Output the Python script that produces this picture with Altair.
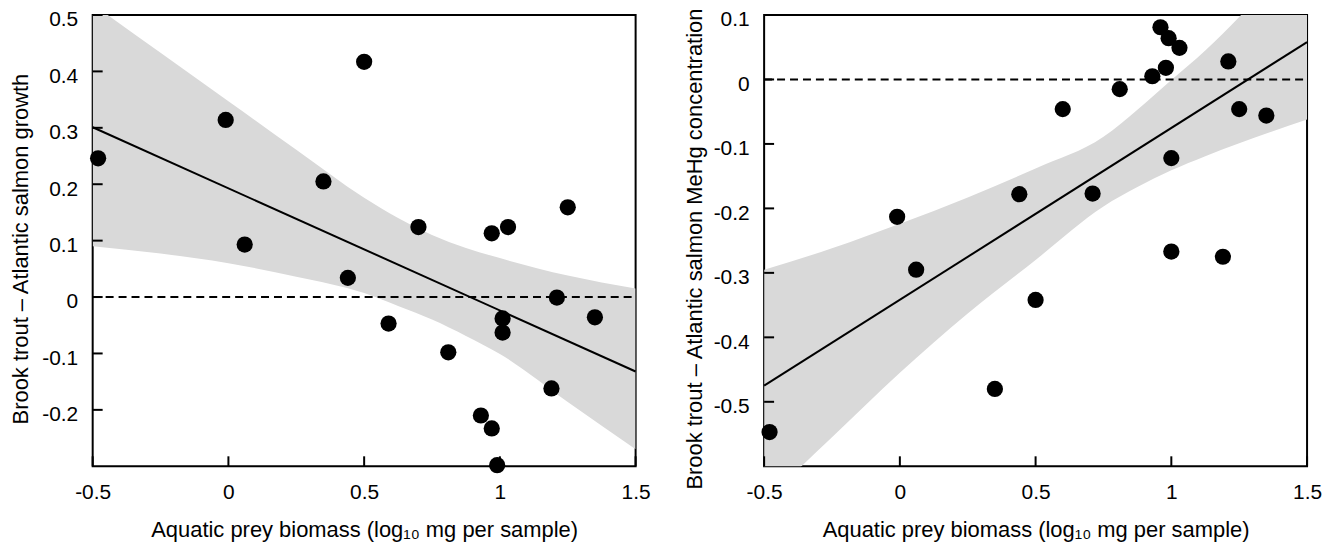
import altair as alt
import pandas as pd

# ---------------- data ----------------
# left panel: growth difference
left_x = [-0.48, -0.01, 0.50, 0.06, 0.35, 0.44, 0.70, 0.59, 0.81, 0.97,
          1.03, 1.25, 1.21, 1.35, 1.01, 1.01, 1.19, 0.93, 0.97, 0.99]
left_y = [0.246, 0.314, 0.417, 0.093, 0.205, 0.034, 0.124, -0.047, -0.098, 0.113,
          0.124, 0.159, -0.001, -0.036, -0.038, -0.063, -0.162, -0.210, -0.233, -0.298]
left_fit_x = [-0.5, 1.5]
left_fit_y = [0.301, -0.132]
left_band_x = [-0.5, -0.25, 0.0, 0.25, 0.5, 0.625, 0.75, 0.875, 1.0, 1.25, 1.5]
left_band_hi = [0.519, 0.433, 0.347, 0.261, 0.176, 0.140, 0.110, 0.087, 0.069, 0.038, 0.015]
left_band_lo = [0.090, 0.077, 0.060, 0.036, 0.007, -0.016, -0.040, -0.069, -0.101, -0.186, -0.270]
left_yticks = [0.5, 0.4, 0.3, 0.2, 0.1, 0.0, -0.1, -0.2]
left_ydomain = [-0.3, 0.5]

# right panel: MeHg concentration difference
right_x = [-0.48, -0.01, 0.06, 0.35, 0.44, 0.50, 0.60, 0.71, 0.81, 0.93,
           0.96, 0.99, 0.98, 1.03, 1.00, 1.00, 1.19, 1.21, 1.25, 1.35]
right_y = [-0.547, -0.213, -0.295, -0.480, -0.178, -0.342, -0.046, -0.177, -0.015, 0.005,
           0.081, 0.064, 0.018, 0.049, -0.122, -0.267, -0.275, 0.028, -0.046, -0.056]
right_fit_x = [-0.5, 1.5]
right_fit_y = [-0.475, 0.058]
right_band_x = [-0.5, -0.25, 0.0, 0.25, 0.5, 0.75, 0.875, 1.0, 1.125, 1.25, 1.5]
right_band_hi = [-0.295, -0.262, -0.224, -0.183, -0.138, -0.089, -0.047, -0.001, 0.045, 0.097, 0.22]
right_band_lo = [-0.655, -0.555, -0.455, -0.363, -0.280, -0.197, -0.167, -0.141, -0.119, -0.099, -0.062]
right_yticks = [0.1, 0.0, -0.1, -0.2, -0.3, -0.4, -0.5]
right_ydomain = [-0.6, 0.1]

xticks = [-0.5, 0.0, 0.5, 1.0, 1.5]
xdomain = [-0.5, 1.5]
zero_line = [0.0]

x_title = "Aquatic prey biomass (log\u2081\u2080 mg per sample)"
left_title = "Brook trout \u2013 Atlantic salmon growth"
right_title = "Brook trout \u2013 Atlantic salmon MeHg concentration"

# ---------------- styling ----------------
W, H = 545, 453
FONT = "Liberation Sans"
BAND = "#d9d9d9"
TICK_LEN = 10
LABEL_FS = 21
TITLE_FS = 22


def panel(px, py, fx, fy, bx, bhi, blo, ydom, yticks, ytitle, ytitle_pad):
    xs = alt.Scale(domain=xdomain, nice=False, zero=False)
    ys = alt.Scale(domain=ydom, nice=False, zero=False)

    xaxis = alt.Axis(values=xticks, labelExpr="toString(datum.value)", title=x_title,
                     grid=False, domain=False, ticks=False, tickSize=0,
                     labelPadding=15, labelFlush=False, titlePadding=17,
                     labelFont=FONT, titleFont=FONT, labelFontSize=LABEL_FS,
                     titleFontSize=TITLE_FS, titleFontWeight="normal",
                     labelColor="black", titleColor="black")
    yaxis = alt.Axis(values=yticks, labelExpr="toString(datum.value)", title=ytitle,
                     grid=False, domain=False, ticks=False, tickSize=0,
                     labelPadding=15, labelFlush=False, labelOffset=5,
                     titlePadding=ytitle_pad, titleY=H / 2 + 8,
                     labelFont=FONT, titleFont=FONT, labelFontSize=LABEL_FS,
                     titleFontSize=TITLE_FS, titleFontWeight="normal",
                     labelColor="black", titleColor="black")

    def X(f):
        return alt.X(f, scale=xs, axis=xaxis, title=x_title)

    def Y(f):
        return alt.Y(f, scale=ys, axis=yaxis, title=ytitle)

    band_df = pd.DataFrame({"x": bx, "hi": bhi, "lo": blo})
    band = alt.Chart(band_df).mark_area(color=BAND, opacity=1, clip=True,
                                        interpolate="monotone").encode(
        x=X("x:Q"), y=Y("hi:Q"), y2="lo:Q",
    )

    zero = alt.Chart(pd.DataFrame({"v": zero_line})).mark_rule(
        color="black", strokeWidth=2, strokeDash=[8, 5]).encode(
        y=Y("v:Q"), x=alt.value(0), x2=alt.value(W),
    )

    fit = alt.Chart(pd.DataFrame({"x": fx, "y": fy})).mark_line(
        color="black", strokeWidth=2).encode(x=X("x:Q"), y=Y("y:Q"))

    pts = alt.Chart(pd.DataFrame({"x": px, "y": py})).mark_circle(
        color="black", opacity=1, size=265).encode(x=X("x:Q"), y=Y("y:Q"))

    ytk = alt.Chart(pd.DataFrame({"v": yticks})).mark_rule(
        color="black", strokeWidth=2).encode(
        y=Y("v:Q"), x=alt.value(0), x2=alt.value(TICK_LEN),
    )
    xtk = alt.Chart(pd.DataFrame({"v": xticks})).mark_rule(
        color="black", strokeWidth=2).encode(
        x=X("v:Q"), y=alt.value(H), y2=alt.value(H - TICK_LEN),
    )

    return alt.layer(band, zero, fit, pts, ytk, xtk).properties(width=W, height=H)


left = panel(left_x, left_y, left_fit_x, left_fit_y, left_band_x, left_band_hi,
             left_band_lo, left_ydomain, left_yticks, left_title, 9)
right = panel(right_x, right_y, right_fit_x, right_fit_y, right_band_x, right_band_hi,
              right_band_lo, right_ydomain, right_yticks, right_title, 7)

chart = alt.hconcat(left, right, spacing=30).properties(
    padding={"left": 0, "top": -3, "right": 0, "bottom": 0}
).configure_view(stroke="black", strokeWidth=2)

chart.save("out.html", embed_options={"renderer": "svg", "actions": False})
